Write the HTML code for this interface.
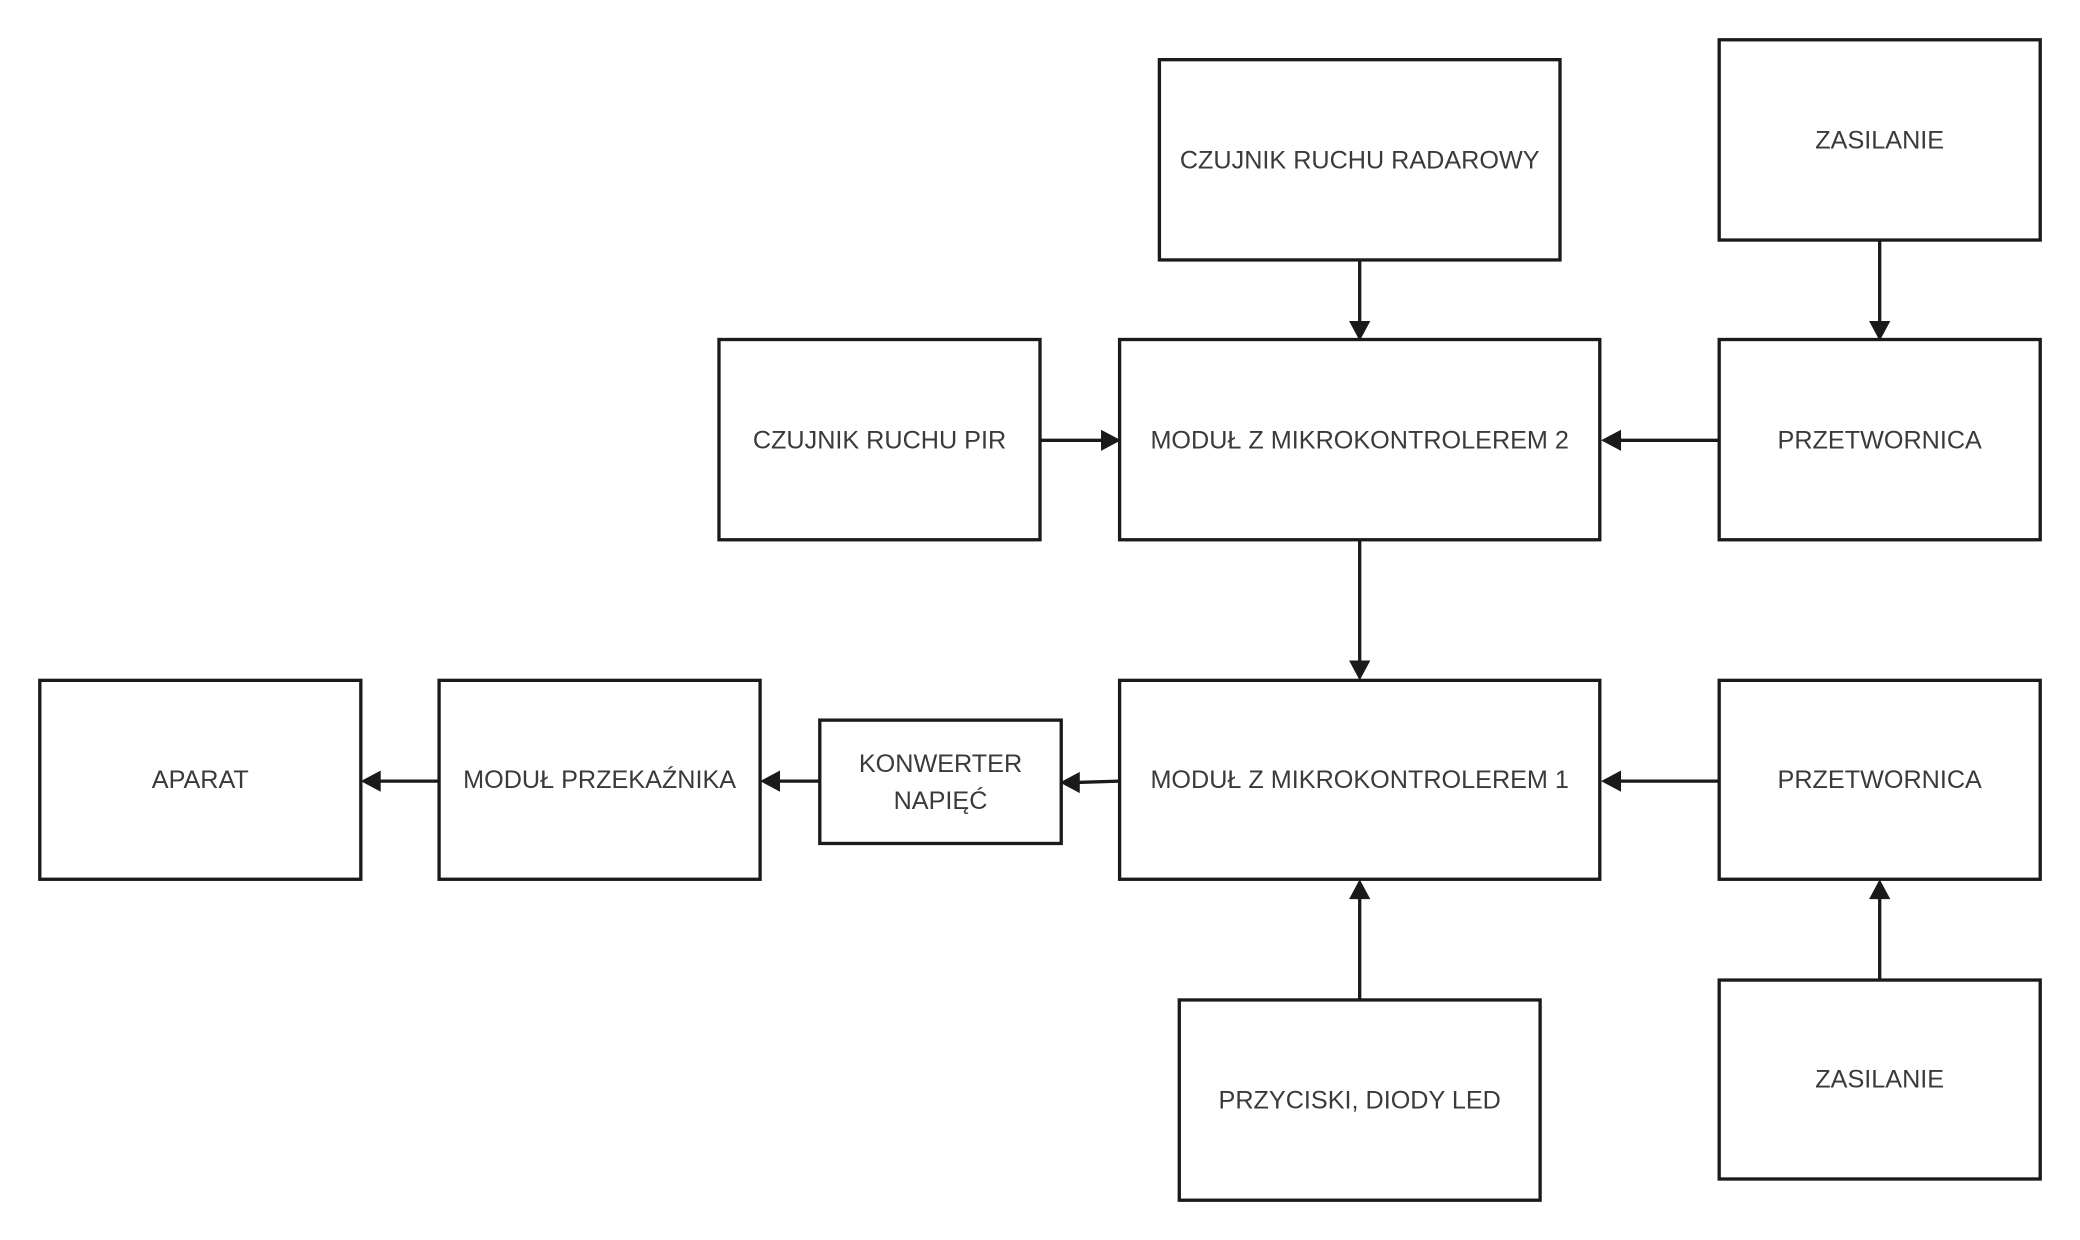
<!DOCTYPE html>
<html><head><meta charset="utf-8"><style>
html,body{margin:0;padding:0;background:#fff;}
svg{display:block;}
text{font-family:"Liberation Sans","DejaVu Sans",sans-serif;font-size:19px;fill:#3a3a3a;text-anchor:middle;dominant-baseline:middle;}
rect{fill:#fff;stroke:#1a1a1a;stroke-width:2.5;}
line{stroke:#1a1a1a;stroke-width:2.5;}
polygon{fill:#1a1a1a;}
</style></head><body>
<svg width="2080" height="1240" viewBox="0 0 1568 935" preserveAspectRatio="none" xmlns="http://www.w3.org/2000/svg">
<rect x="874" y="45" width="302" height="151"/><text x="1025" y="122">CZUJNIK RUCHU RADAROWY</text>
<rect x="1296" y="30" width="242" height="151"/><text x="1417" y="107">ZASILANIE</text>
<rect x="542" y="256" width="242" height="151"/><text x="663" y="333">CZUJNIK RUCHU PIR</text>
<rect x="844" y="256" width="362" height="151"/><text x="1025" y="333">MODUŁ Z MIKROKONTROLEREM 2</text>
<rect x="1296" y="256" width="242" height="151"/><text x="1417" y="333">PRZETWORNICA</text>
<rect x="30" y="513" width="242" height="150"/><text x="151" y="589">APARAT</text>
<rect x="331" y="513" width="242" height="150"/><text x="452" y="589">MODUŁ PRZEKAŹNIKA</text>
<rect x="618" y="543" width="182" height="93"/><text x="709" y="577">KONWERTER</text><text x="709" y="605">NAPIĘĆ</text>
<rect x="844" y="513" width="362" height="150"/><text x="1025" y="589">MODUŁ Z MIKROKONTROLEREM 1</text>
<rect x="1296" y="513" width="242" height="150"/><text x="1417" y="589">PRZETWORNICA</text>
<rect x="889" y="754" width="272" height="151"/><text x="1025" y="831">PRZYCISKI, DIODY LED</text>
<rect x="1296" y="739" width="242" height="150"/><text x="1417" y="815">ZASILANIE</text>

<line x1="1025" y1="196" x2="1025" y2="244"/><polygon points="1017,242 1033,242 1025,257"/>
<line x1="1417" y1="181" x2="1417" y2="244"/><polygon points="1409,242 1425,242 1417,257"/>
<line x1="784" y1="332" x2="832" y2="332"/><polygon points="830,324 830,340 845,332"/>
<line x1="1296" y1="332" x2="1220" y2="332"/><polygon points="1222,324 1222,340 1207,332"/>
<line x1="1025" y1="407" x2="1025" y2="500"/><polygon points="1017,498 1033,498 1025,513"/>
<line x1="1296" y1="589" x2="1220" y2="589"/><polygon points="1222,581 1222,597 1207,589"/>
<line x1="844" y1="589" x2="812" y2="590"/><polygon points="814,582 814,598 799,590"/>
<line x1="618" y1="589" x2="586" y2="589"/><polygon points="588,581 588,597 573,589"/>
<line x1="331" y1="589" x2="285" y2="589"/><polygon points="287,581 287,597 272,589"/>
<line x1="1025" y1="754" x2="1025" y2="676"/><polygon points="1017,678 1033,678 1025,663"/>
<line x1="1417" y1="739" x2="1417" y2="676"/><polygon points="1409,678 1425,678 1417,663"/>
</svg>
</body></html>
